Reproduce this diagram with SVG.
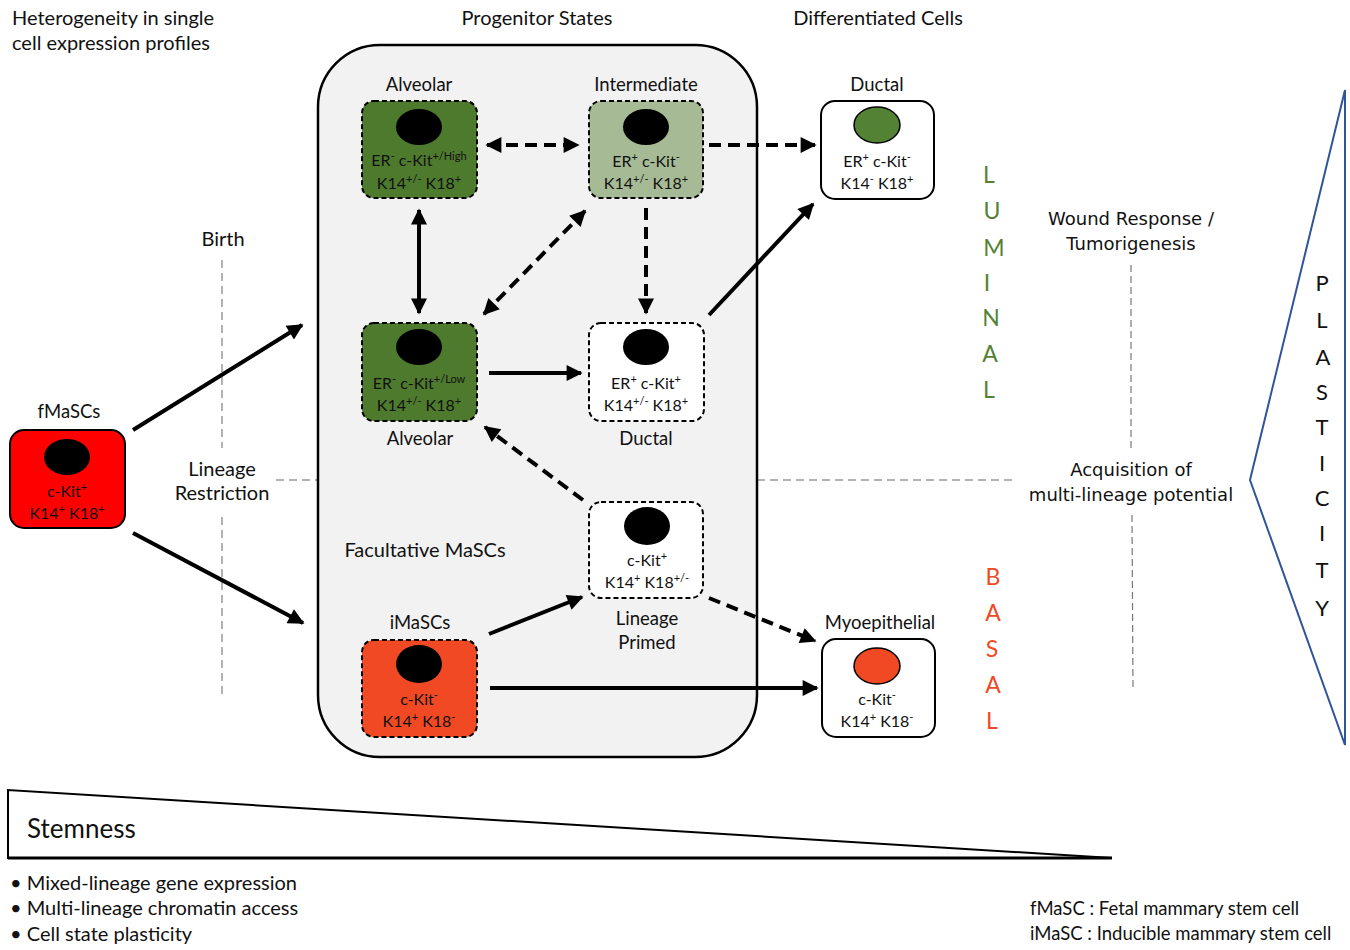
<svg xmlns="http://www.w3.org/2000/svg" width="1350" height="950" viewBox="0 0 1350 950">
<defs>
<marker id="ah" viewBox="0 0 10 10" refX="9" refY="5" markerWidth="18" markerHeight="16" markerUnits="userSpaceOnUse" orient="auto-start-reverse"><path d="M0,0 L10,5 L0,10 z" fill="#000"/></marker>
<style>
text{font-family:Lato,"Open Sans","Liberation Sans",sans-serif;fill:#111}
.t{font-size:20px}
.l{font-size:18.5px}
.c{text-anchor:middle}
.n{font-size:16px;text-anchor:middle}
.s{font-size:11px}
.g{font-family:"DejaVu Sans","Liberation Sans",sans-serif}
.box{stroke:#000;stroke-width:2;stroke-dasharray:5 3}
.sol{stroke:#000;stroke-width:2}
.nuc{fill:#000}
.con{stroke:#000;stroke-width:4;fill:none;marker-end:url(#ah)}
.dash{stroke-dasharray:12 7}
.both{marker-start:url(#ah)}
.gl{stroke:#999;stroke-width:1.5;stroke-dasharray:8 5;fill:none}
.gl2{stroke:#777;stroke-width:1.2;stroke-dasharray:7 4;fill:none}
</style>
</defs>
<rect width="1350" height="950" fill="#fff"/>

<!-- headers -->
<text class="t" x="12" y="25">Heterogeneity in single</text>
<text class="t" x="12" y="50">cell expression profiles</text>
<text class="t c" x="537" y="25">Progenitor States</text>
<text class="t c" x="878" y="25">Differentiated Cells</text>

<!-- gray guide lines -->
<g id="guides">
<line class="gl" x1="222" y1="260" x2="222" y2="448"/>
<line class="gl" x1="222" y1="517" x2="222" y2="698"/>
<line class="gl" x1="276" y1="480" x2="1014" y2="480"/>
<line class="gl2" x1="1131" y1="265" x2="1131" y2="450"/>
<line class="gl2" x1="1132" y1="515" x2="1133" y2="690"/>
</g>

<!-- progenitor container -->
<rect id="progenitor-states" x="318" y="45" width="439" height="712" rx="62" fill="#f2f2f2" stroke="#000" stroke-width="2.5"/>

<text class="t c" x="223" y="246">Birth</text>
<text class="t c" x="222" y="476">Lineage</text>
<text class="t c" x="222" y="500">Restriction</text>
<text class="t c" x="425" y="557">Facultative MaSCs</text>

<!-- nodes -->
<g id="fMaSCs">
<text class="l c" x="69" y="418">fMaSCs</text>
<rect class="sol" x="10" y="430" width="115" height="98" rx="14" fill="#ff0000"/>
<ellipse class="nuc" cx="67" cy="457" rx="23" ry="18"/>
<text class="n" x="67" y="497">c-Kit<tspan class="s" baseline-shift="super">+</tspan></text>
<text class="n" x="67" y="519">K14<tspan class="s" baseline-shift="super">+</tspan> K18<tspan class="s" baseline-shift="super">+</tspan></text>
</g>

<g id="alveolar-high">
<text class="l c" x="419" y="91">Alveolar</text>
<rect class="box" x="362" y="101" width="115" height="97" rx="12" fill="#4e7a2e"/>
<ellipse class="nuc" cx="419" cy="127" rx="23" ry="18"/>
<text class="n" x="419" y="166">ER<tspan class="s" baseline-shift="super">-</tspan> c-Kit<tspan class="s" baseline-shift="super">+/High</tspan></text>
<text class="n" x="419" y="189">K14<tspan class="s" baseline-shift="super">+/-</tspan> K18<tspan class="s" baseline-shift="super">+</tspan></text>
</g>

<g id="intermediate">
<text class="l c" x="646" y="91">Intermediate</text>
<rect class="box" x="589" y="101" width="114" height="97" rx="12" fill="#a6bb95"/>
<ellipse class="nuc" cx="646" cy="127" rx="23" ry="18"/>
<text class="n" x="646" y="167">ER<tspan class="s" baseline-shift="super">+</tspan> c-Kit<tspan class="s" baseline-shift="super">-</tspan></text>
<text class="n" x="646" y="189">K14<tspan class="s" baseline-shift="super">+/-</tspan> K18<tspan class="s" baseline-shift="super">+</tspan></text>
</g>

<g id="alveolar-low">
<rect class="box" x="362" y="323" width="115" height="98" rx="12" fill="#4e7a2e"/>
<ellipse class="nuc" cx="419" cy="347" rx="23" ry="18"/>
<text class="n" x="419" y="389">ER<tspan class="s" baseline-shift="super">-</tspan> c-Kit<tspan class="s" baseline-shift="super">+/Low</tspan></text>
<text class="n" x="419" y="411">K14<tspan class="s" baseline-shift="super">+/-</tspan> K18<tspan class="s" baseline-shift="super">+</tspan></text>
<text class="l c" x="420" y="445">Alveolar</text>
</g>

<g id="ductal-progenitor">
<rect class="box" x="589" y="323" width="115" height="98" rx="12" fill="#fff"/>
<ellipse class="nuc" cx="646" cy="347" rx="23" ry="18"/>
<text class="n" x="646" y="389">ER<tspan class="s" baseline-shift="super">+</tspan> c-Kit<tspan class="s" baseline-shift="super">+</tspan></text>
<text class="n" x="646" y="411">K14<tspan class="s" baseline-shift="super">+/-</tspan> K18<tspan class="s" baseline-shift="super">+</tspan></text>
<text class="l c" x="646" y="445">Ductal</text>
</g>

<g id="lineage-primed">
<rect class="box" x="589" y="502" width="114" height="96" rx="12" fill="#fff"/>
<ellipse class="nuc" cx="647" cy="526" rx="23" ry="19"/>
<text class="n" x="647" y="566">c-Kit<tspan class="s" baseline-shift="super">+</tspan></text>
<text class="n" x="647" y="588">K14<tspan class="s" baseline-shift="super">+</tspan> K18<tspan class="s" baseline-shift="super">+/-</tspan></text>
<text class="l c" x="647" y="625">Lineage</text>
<text class="l c" x="647" y="649">Primed</text>
</g>

<g id="iMaSCs">
<text class="l c" x="420" y="629">iMaSCs</text>
<rect class="box" x="362" y="640" width="115" height="97" rx="12" fill="#f04923"/>
<ellipse class="nuc" cx="419" cy="664" rx="23" ry="19"/>
<text class="n" x="419" y="705">c-Kit<tspan class="s" baseline-shift="super">-</tspan></text>
<text class="n" x="419" y="727">K14<tspan class="s" baseline-shift="super">+</tspan> K18<tspan class="s" baseline-shift="super">-</tspan></text>
</g>

<g id="ductal">
<text class="l c" x="877" y="91">Ductal</text>
<rect class="sol" x="821" y="101" width="113" height="98" rx="14" fill="#fff"/>
<ellipse cx="877" cy="125" rx="23" ry="18" fill="#548235" stroke="#000" stroke-width="1.5"/>
<text class="n" x="877" y="167">ER<tspan class="s" baseline-shift="super">+</tspan> c-Kit<tspan class="s" baseline-shift="super">-</tspan></text>
<text class="n" x="877" y="189">K14<tspan class="s" baseline-shift="super">-</tspan> K18<tspan class="s" baseline-shift="super">+</tspan></text>
</g>

<g id="myoepithelial">
<text class="l c" x="880" y="629">Myoepithelial</text>
<rect class="sol" x="822" y="639" width="113" height="98" rx="14" fill="#fff"/>
<ellipse cx="877" cy="666" rx="23" ry="18" fill="#f04923" stroke="#000" stroke-width="1.5"/>
<text class="n" x="877" y="705">c-Kit<tspan class="s" baseline-shift="super">-</tspan></text>
<text class="n" x="877" y="727">K14<tspan class="s" baseline-shift="super">+</tspan> K18<tspan class="s" baseline-shift="super">-</tspan></text>
</g>

<!-- connectors -->
<g id="connectors">
<line class="con dash both" x1="487" y1="145" x2="578" y2="145"/>
<line class="con dash" x1="709" y1="145" x2="815" y2="145"/>
<line class="con both" x1="419" y1="210" x2="419" y2="313"/>
<line class="con dash both" x1="585" y1="211" x2="484" y2="314"/>
<line class="con dash" x1="646" y1="208" x2="646" y2="313"/>
<line class="con" x1="489" y1="373" x2="581" y2="373"/>
<line class="con" x1="709" y1="315" x2="813" y2="204"/>
<line class="con dash" x1="583" y1="500" x2="485" y2="427"/>
<line class="con dash" x1="709" y1="598" x2="815" y2="641"/>
<line class="con" x1="489" y1="634" x2="582" y2="597"/>
<line class="con" x1="490" y1="688" x2="817" y2="688"/>
<line class="con" x1="133" y1="430" x2="302" y2="325"/>
<line class="con" x1="133" y1="533" x2="303" y2="623"/>
</g>

<!-- lineage letters -->
<g id="luminal" class="g" style="font-size:23px;text-anchor:middle">
<text x="989" y="183" style="fill:#548235">L</text>
<text x="992" y="219" style="fill:#548235">U</text>
<text x="994" y="256" style="fill:#548235">M</text>
<text x="987" y="291" style="fill:#548235">I</text>
<text x="991" y="326" style="fill:#548235">N</text>
<text x="990" y="362" style="fill:#548235">A</text>
<text x="989" y="398" style="fill:#548235">L</text>
</g>
<g id="basal" class="g" style="font-size:23px;text-anchor:middle">
<text x="993" y="585" style="fill:#f04923">B</text>
<text x="993" y="621" style="fill:#f04923">A</text>
<text x="992" y="657" style="fill:#f04923">S</text>
<text x="993" y="693" style="fill:#f04923">A</text>
<text x="992" y="729" style="fill:#f04923">L</text>
</g>

<text class="g c" x="1131" y="225" style="font-size:18px">Wound Response /</text>
<text class="g c" x="1131" y="250" style="font-size:18px">Tumorigenesis</text>
<text class="g c" x="1131" y="476" style="font-size:18px">Acquisition of</text>
<text class="g c" x="1131" y="501" style="font-size:18px">multi-lineage potential</text>

<!-- plasticity wedge -->
<g id="plasticity">
<polygon points="1345,90 1250,480 1345,745" fill="none" stroke="#2f5597" stroke-width="2"/>
<g class="g" style="font-size:22px;text-anchor:middle">
<text x="1322" y="291">P</text>
<text x="1322" y="328">L</text>
<text x="1323" y="365">A</text>
<text x="1322" y="400">S</text>
<text x="1322" y="435">T</text>
<text x="1322" y="471">I</text>
<text x="1322" y="506">C</text>
<text x="1322" y="541">I</text>
<text x="1322" y="578">T</text>
<text x="1322" y="616">Y</text>
</g>
</g>

<!-- stemness wedge -->
<g id="stemness">
<polygon points="8,790 8,858 1112,858" fill="#fff" stroke="#000" stroke-width="2"/>
<line x1="8" y1="858" x2="1112" y2="858" stroke="#000" stroke-width="3"/>
<text x="27" y="838" style="font-size:26px">Stemness</text>
</g>

<text class="t" x="10" y="890">• Mixed-lineage gene expression</text>
<text class="t" x="10" y="915">• Multi-lineage chromatin access</text>
<text class="t" x="10" y="941">• Cell state plasticity</text>
<text x="1030" y="915" style="font-size:18.5px">fMaSC : Fetal mammary stem cell</text>
<text x="1030" y="940" style="font-size:18.5px">iMaSC : Inducible mammary stem cell</text>
</svg>
